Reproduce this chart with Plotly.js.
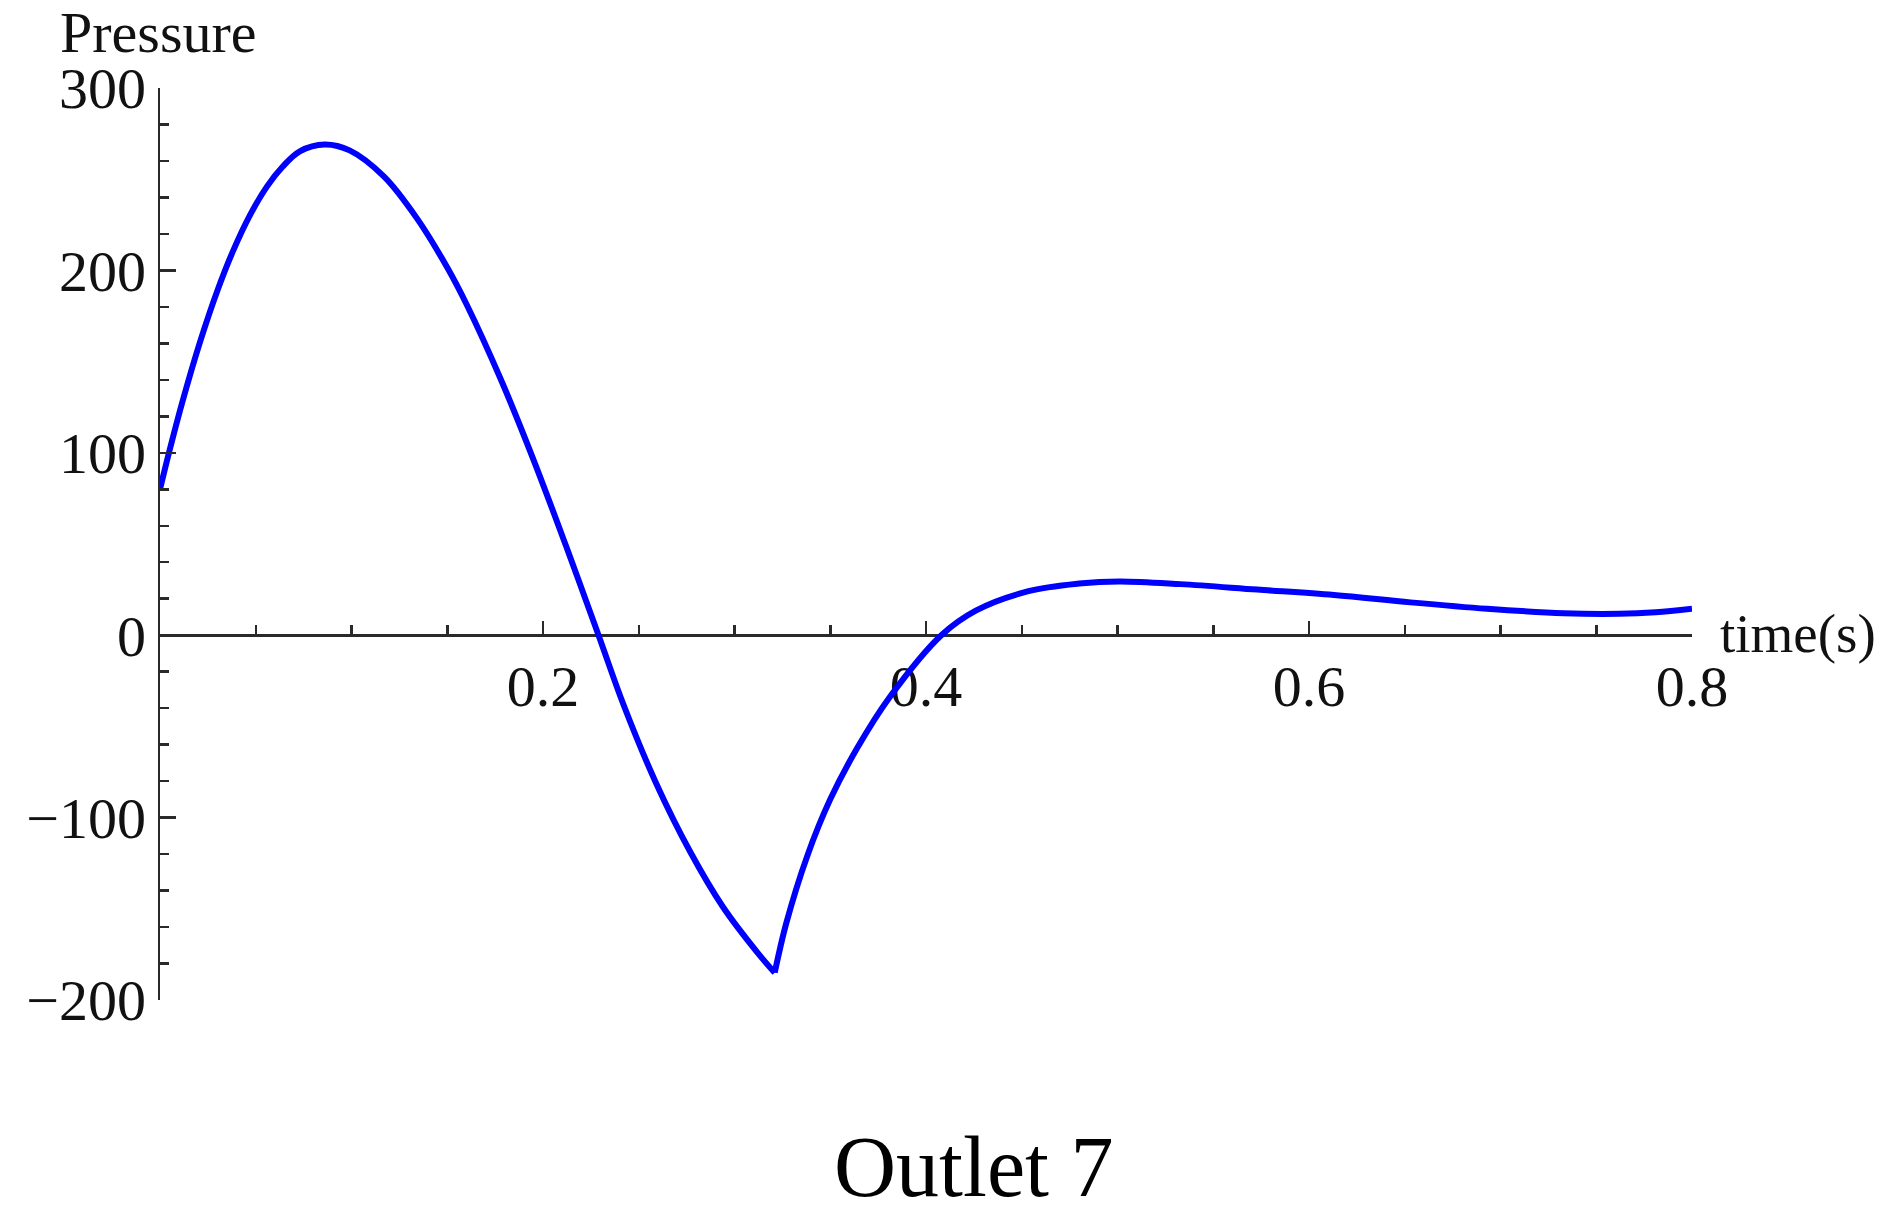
<!DOCTYPE html>
<html>
<head>
<meta charset="utf-8">
<script src="https://cdn.plot.ly/plotly-3.0.1.min.js"></script>
<style>
  html, body { margin: 0; padding: 0; background: #fff; }
  #graph { width: 1888px; height: 1214px; }
</style>
</head>
<body>
<div id="graph"></div>
<script>
// values
var time = [0.000, 0.005, 0.012, 0.021, 0.030, 0.038, 0.047, 0.056, 0.064, 0.073,
            0.086, 0.099, 0.117, 0.134, 0.150, 0.160, 0.178, 0.195, 0.212, 0.229,
            0.242, 0.259, 0.277, 0.294, 0.312, 0.321,
            0.327, 0.338, 0.350, 0.364, 0.381, 0.408, 0.426, 0.453, 0.480, 0.501,
            0.533, 0.573, 0.613, 0.653, 0.693, 0.733, 0.762, 0.781, 0.800];
var pressure = [80, 101.4, 129.1, 161.1, 189, 210.3, 230.3, 246.2, 256.8, 265.3,
                269, 265.8, 251.4, 228.8, 201.6, 181.6, 140.2, 96.3, 49, 0,
                -38, -81, -119, -149, -174, -185,
                -158, -121, -90, -62, -34, 0, 13.5, 24, 28.3, 29.5,
                28, 25, 22, 18, 14.5, 12, 11.7, 12.6, 14.5];
var xTickVals = [0.2, 0.4, 0.6, 0.8];
var xTickText = ['0.2', '0.4', '0.6', '0.8'];

var serif = '"Liberation Serif", "Times New Roman", serif';

// the curve has a sharp corner at its minimum, so draw it in two smooth pieces
var cusp = pressure.indexOf(Math.min.apply(null, pressure));

function piece(a, b) {
    return {
        type: 'scatter',
        mode: 'lines',
        x: time.slice(a, b),
        y: pressure.slice(a, b),
        line: { color: '#0000ff', width: 6, shape: 'spline', smoothing: 1 },
        showlegend: false,
        hoverinfo: 'x+y'
    };
}

var data = [piece(0, cusp + 1), piece(cusp, time.length)];

var layout = {
    width: 1888,
    height: 1214,
    margin: { l: 160, r: 196, t: 88, b: 214 },
    paper_bgcolor: '#fff',
    plot_bgcolor: '#fff',
    showlegend: false,
    font: { family: serif, size: 58, color: '#111' },
    xaxis: {
        range: [0, 0.8],
        anchor: 'free',
        position: 0.4,
        layer: 'below traces',
        showgrid: false,
        zeroline: false,
        showline: true,
        linecolor: '#2a2a2a',
        linewidth: 2.5,
        ticks: 'inside',
        ticklen: 13,
        tickwidth: 2.5,
        tickcolor: '#2a2a2a',
        tickmode: 'array',
        tickvals: xTickVals,
        ticktext: xTickText,
        tickfont: { family: serif, size: 58, color: '#111' },
        minor: { tickmode: 'linear', tick0: 0, dtick: 0.05, ticks: 'inside', ticklen: 9, tickwidth: 2.5, tickcolor: '#2a2a2a' }
    },
    yaxis: {
        range: [-200, 300],
        showgrid: false,
        zeroline: false,
        showline: true,
        linecolor: '#2a2a2a',
        linewidth: 2.5,
        ticks: 'inside',
        ticklen: 16,
        tickwidth: 2.5,
        tickcolor: '#2a2a2a',
        dtick: 100,
        tick0: 0,
        tickfont: { family: serif, size: 58, color: '#111' },
        minor: { dtick: 20, ticks: 'inside', ticklen: 9, tickwidth: 2.5, tickcolor: '#2a2a2a' }
    },
    annotations: [
        {
            text: 'Pressure', xref: 'paper', yref: 'paper',
            x: -0.0666, y: 1.061, xanchor: 'left', yanchor: 'middle',
            showarrow: false, font: { family: serif, size: 58, color: '#111' }
        },
        {
            text: 'time(s)', xref: 'paper', yref: 'paper',
            x: 1.017, y: 0.4019, xanchor: 'left', yanchor: 'middle',
            showarrow: false, font: { family: serif, size: 55, color: '#111' }
        },
        {
            text: 'Outlet 7', xref: 'paper', yref: 'paper',
            x: 0.5313, y: -0.1827, xanchor: 'center', yanchor: 'middle',
            showarrow: false, font: { family: serif, size: 86, color: '#000' }
        }
    ]
};

Plotly.newPlot('graph', data, layout, { staticPlot: true });
</script>
</body>
</html>
